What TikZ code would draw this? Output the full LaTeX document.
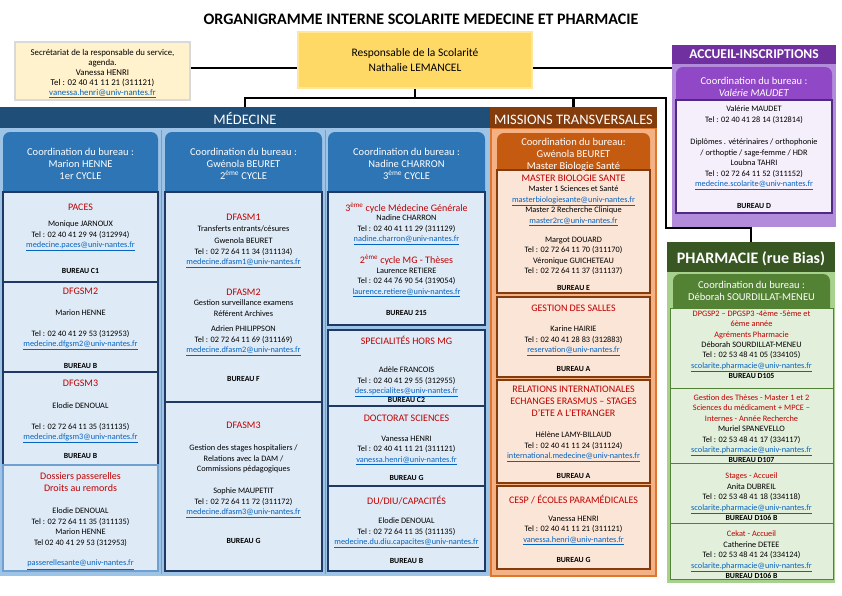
\documentclass[tikz,border=0pt]{standalone}
\usepackage{fontspec}
\setmainfont{Carlito}
\usetikzlibrary{fit}
\definecolor{medhd}{HTML}{1F4E79}
\definecolor{medbg}{HTML}{9DC3E6}
\definecolor{medcol}{HTML}{2E75B6}
\definecolor{medfill}{HTML}{DEEBF7}
\definecolor{medbd}{HTML}{203864}
\definecolor{medsep}{HTML}{6FA0D0}
\definecolor{redt}{HTML}{C00000}
\definecolor{linkc}{HTML}{0563C1}
\definecolor{mishd}{HTML}{843C0C}
\definecolor{misbg}{HTML}{F4B183}
\definecolor{misedge}{HTML}{E0752D}
\definecolor{miscol}{HTML}{C55A11}
\definecolor{misfill}{HTML}{FBE5D6}
\definecolor{misbd}{HTML}{843C0C}
\definecolor{acchd}{HTML}{7030A0}
\definecolor{accbg}{HTML}{B38BDB}
\definecolor{acccol}{HTML}{9148C6}
\definecolor{accfill}{HTML}{F4EFFA}
\definecolor{accbd}{HTML}{4E2A84}
\definecolor{phhd}{HTML}{385723}
\definecolor{phbg}{HTML}{A9D18E}
\definecolor{phcol}{HTML}{548235}
\definecolor{phfill}{HTML}{E2EFDA}
\definecolor{phbd}{HTML}{548235}
\definecolor{secfill}{HTML}{FFF2CC}
\definecolor{secbd}{HTML}{D9D9D9}
\definecolor{respfill}{HTML}{FFD966}
\definecolor{respbd}{HTML}{FFE699}
\newcommand\myct{\fontsize{8.3}{10.4}\selectfont}
\newcommand\myrd{\fontsize{10}{12}\selectfont}
\newcommand\mybu{\fontsize{7.8}{9}\selectfont\bfseries}
\newcommand\myhd{\fontsize{10.5}{12}\selectfont}
\newcommand\lnk[1]{\textcolor{linkc}{\underline{#1}}}
\begin{document}
\begin{tikzpicture}[x=1pt,y=-1pt,
 conn/.style={line width=2.4pt, draw=black, line join=miter},
 txbase/.style={anchor=north, inner sep=0pt, align=center, text=black},
 bodytx/.style={txbase, font=\myct, yshift=2pt},
 rtitle/.style={txbase, font=\myrd, text=redt, yshift=2.5pt},
 burtx/.style={txbase, font=\mybu, yshift=2pt},
 hdtx/.style={txbase, font=\myhd, text=white, yshift=3.3pt},
 bandtx/.style={anchor=base, inner sep=0pt, text=white},
 plain/.style={inner sep=0pt},
 colhd/.style={inner sep=0pt, rounded corners=7pt},
 mbox/.style={inner sep=0pt, fill=medfill, draw=medbd, line width=1.1pt},
 obox/.style={inner sep=0pt, fill=misfill, draw=misbd, line width=1.1pt},
 pbox/.style={inner sep=0pt, fill=accfill, draw=accbd, line width=1.1pt},
 gbox/.style={inner sep=0pt, fill=phfill, draw=phbd, line width=0.9pt}
]
\useasboundingbox (0,0) rectangle (842,595);

% title
\node[anchor=base, inner sep=0pt, font=\fontsize{16}{18}\selectfont\bfseries] (title) at (421,24) {ORGANIGRAMME INTERNE SCOLARITE MEDECINE ET PHARMACIE};

% top boxes
\node[plain, fill=secfill, draw=secbd, line width=1.5pt, fit={(15,42)(190,100)}] (sec) {};
\node[txbase, font=\fontsize{8.8}{9.8}\selectfont, yshift=2.5pt] (sect) at (102.5,52) {Secrétariat de la responsable du service,\\agenda.\\Vanessa HENRI\\Tel : 02 40 41 11 21 (311121)\\\lnk{vanessa.henri@univ-nantes.fr}};
\node[plain, fill=respfill, draw=respbd, line width=2pt, fit={(298,32)(532,88)}] (resp) {};
\node[anchor=base, inner sep=0pt, font=\fontsize{11.5}{14}\selectfont] (respt1) at (415,56.7) {Responsable de la Scolarité};
\node[anchor=base, inner sep=0pt, font=\fontsize{11.5}{14}\selectfont] (respt2) at (415,71.7) {Nathalie LEMANCEL};

% ===== MEDECINE =====
\node[plain, fill=medbg, fit={(0,128)(490,576)}] (medbg) {};
\node[plain, fill=medhd, fit={(0,107)(490,128)}] (medhd) {};
\node[bandtx, font=\fontsize{14.5}{16}\selectfont] (medhdt) at (245,124) {MÉDECINE};
\draw[medsep, line width=1pt] (161.5,130) -- (161.5,574);
\draw[medsep, line width=1pt] (325,130) -- (325,574);
\node[colhd, fill=medcol, fit={(3,132)(158,200)}] (mc1) {};
\node[colhd, fill=medcol, fit={(165,132)(322,200)}] (mc2) {};
\node[colhd, fill=medcol, fit={(328,132)(485,200)}] (mc3) {};
\node[mbox, fit={(3,192)(158,282)}] (m11) {};
\node[mbox, fit={(3,282)(158,372)}] (m12) {};
\node[mbox, fit={(3,372)(158,465)}] (m13) {};
\node[mbox, draw=medsep, fit={(3,465)(158,571)}] (m14) {};
\node[mbox, fit={(165,192)(322,402)}] (m21) {};
\node[mbox, fit={(165,402)(322,571)}] (m22) {};
\node[mbox, fit={(328,192)(485,325)}] (m31) {};
\node[mbox, fit={(328,330)(485,406)}] (m32) {};
\node[mbox, fit={(328,406)(485,486)}] (m33) {};
\node[mbox, fit={(328,486)(485,571)}] (m34) {};

\node[hdtx] (mc1t) at (80.5,151) {Coordination du bureau :\\Marion HENNE\\1er CYCLE};
\node[hdtx] (mc2t) at (243.5,151) {Coordination du bureau :\\Gwénola BEURET\\2\textsuperscript{ème} CYCLE};
\node[hdtx] (mc3t) at (406.5,151) {Coordination du bureau :\\Nadine CHARRON\\3\textsuperscript{ème} CYCLE};

\node[rtitle] (t11) at (80.5,206) {PACES};
\node[bodytx] (b11) at (80.5,223) {Monique JARNOUX\\Tel : 02 40 41 29 94 (312994)\\\lnk{medecine.paces@univ-nantes.fr}};
\node[burtx] (u11) at (80.5,270) {BUREAU C1};
\node[rtitle] (t12) at (80.5,290) {DFGSM2};
\node[bodytx] (b12) at (80.5,312) {Marion HENNE};
\node[bodytx] (c12) at (80.5,332) {Tel : 02 40 41 29 53 (312953)\\\lnk{medecine.dfgsm2@univ-nantes.fr}};
\node[burtx] (u12) at (80.5,365) {BUREAU B};
\node[rtitle] (t13) at (80.5,382) {DFGSM3};
\node[bodytx] (b13) at (80.5,405) {Elodie DENOUAL};
\node[bodytx] (c13) at (80.5,425) {Tel : 02 72 64 11 35 (311135)\\\lnk{medecine.dfgsm3@univ-nantes.fr}};
\node[burtx] (u13) at (80.5,455) {BUREAU B};
\node[rtitle] (t14) at (80.5,475) {Dossiers passerelles\\Droits au remords};
\node[bodytx] (b14) at (80.5,510) {Elodie DENOUAL\\Tel : 02 72 64 11 35 (311135)\\Marion HENNE\\Tel 02 40 41 29 53 (312953)};
\node[bodytx] (c14) at (80.5,562) {\lnk{passerellesante@univ-nantes.fr}};

\node[rtitle] (t21) at (243.5,216) {DFASM1};
\node[bodytx] (b21) at (243.5,228) {Transferts entrants/césures};
\node[bodytx] (c21) at (243.5,240) {Gwenola BEURET\\Tel : 02 72 64 11 34 (311134)\\\lnk{medecine.dfasm1@univ-nantes.fr}};
\node[rtitle] (t22) at (243.5,291) {DFASM2};
\node[bodytx] (b22) at (243.5,302) {Gestion surveillance examens\\Référent Archives};
\node[bodytx] (c22) at (243.5,328) {Adrien PHILIPPSON\\Tel : 02 72 64 11 69 (311169)\\\lnk{medecine.dfasm2@univ-nantes.fr}};
\node[burtx] (u22) at (243.5,378) {BUREAU F};
\node[rtitle] (t23) at (243.5,424) {DFASM3};
\node[bodytx] (b23) at (243.5,447) {Gestion des stages hospitaliers /\\Relations avec la DAM /\\Commissions pédagogiques};
\node[bodytx] (c23) at (243.5,490) {Sophie MAUPETIT\\Tel : 02 72 64 11 72 (311172)\\\lnk{medecine.dfasm3@univ-nantes.fr}};
\node[burtx] (u23) at (243.5,540) {BUREAU G};

\node[rtitle] (t31) at (406.5,205) {3\textsuperscript{ème} cycle Médecine Générale};
\node[bodytx] (b31) at (406.5,217) {Nadine CHARRON\\Tel : 02 40 41 11 29 (311129)\\\lnk{nadine.charron@univ-nantes.fr}};
\node[rtitle] (t32) at (406.5,257) {2\textsuperscript{ème} cycle MG - Thèses};
\node[bodytx] (b32) at (406.5,270) {Laurence RETIERE\\Tel : 02 44 76 90 54 (319054)\\\lnk{laurence.retiere@univ-nantes.fr}};
\node[burtx] (u32) at (406.5,312) {BUREAU 215};
\node[rtitle] (t33) at (406.5,338) {SPECIALITÉS HORS MG};
\node[bodytx] (b33) at (406.5,369) {Adèle FRANCOIS\\Tel : 02 40 41 29 55 (312955)\\\lnk{des.specialites@univ-nantes.fr}};
\node[burtx] (u33) at (406.5,399) {BUREAU C2};
\node[rtitle] (t34) at (406.5,417) {DOCTORAT SCIENCES};
\node[bodytx] (b34) at (406.5,438) {Vanessa HENRI\\Tel : 02 40 41 11 21 (311121)\\\lnk{vanessa.henri@univ-nantes.fr}};
\node[burtx] (u34) at (406.5,477) {BUREAU G};
\node[rtitle] (t35) at (406.5,498) {DU/DIU/CAPACITÉS};
\node[bodytx] (b35) at (406.5,520) {Elodie DENOUAL\\Tel : 02 72 64 11 35 (311135)\\\lnk{medecine.du.diu.capacites@univ-nantes.fr}};
\node[burtx] (u35) at (406.5,560) {BUREAU B};

% ===== MISSIONS =====
\node[plain, fill=misbg, draw=misedge, line width=1.5pt, fit={(490.75,128)(656,576)}] (misbg) {};
\node[plain, fill=mishd, fit={(490,107)(657,128)}] (mishd) {};
\node[bandtx, font=\fontsize{14.5}{16}\selectfont] (mishdt) at (573.5,124) {MISSIONS TRANSVERSALES};
\node[colhd, fill=miscol, fit={(497,133)(650,178)}] (miscol) {};
\node[obox, fit={(497,170)(650,293)}] (o1) {};
\node[obox, fit={(497,297)(650,377)}] (o2) {};
\node[obox, fit={(497,380)(650,483)}] (o3) {};
\node[obox, fit={(497,486)(650,569)}] (o4) {};
\node[hdtx] (mist) at (573.5,141) {Coordination du bureau:\\Gwénola BEURET\\Master Biologie Santé};
\node[rtitle] (t41) at (573.5,177) {MASTER BIOLOGIE SANTE};
\node[bodytx] (b41) at (573.5,188) {Master 1 Sciences et Santé\\\lnk{masterbiologiesante@univ-nantes.fr}\\Master 2 Recherche Clinique\\\lnk{master2rc@univ-nantes.fr}};
\node[bodytx] (c41) at (573.5,239) {Margot DOUARD\\Tel : 02 72 64 11 70 (311170)\\Véronique GUICHETEAU\\Tel : 02 72 64 11 37 (311137)};
\node[burtx] (u41) at (573.5,287) {BUREAU E};
\node[rtitle] (t42) at (573.5,307) {GESTION DES SALLES};
\node[bodytx] (b42) at (573.5,328) {Karine HAIRIE\\Tel : 02 40 41 28 83 (312883)\\\lnk{reservation@univ-nantes.fr}};
\node[burtx] (u42) at (573.5,368) {BUREAU A};
\node[rtitle] (t43) at (573.5,388) {RELATIONS INTERNATIONALES\\ECHANGES ERASMUS – STAGES\\D’ETE A L’ETRANGER};
\node[bodytx] (b43) at (573.5,434) {Hélène LAMY-BILLAUD\\Tel : 02 40 41 11 24 (311124)\\\lnk{international.medecine@univ-nantes.fr}};
\node[burtx] (u43) at (573.5,475) {BUREAU A};
\node[rtitle] (t44) at (573.5,497) {CESP / ÉCOLES PARAMÉDICALES};
\node[bodytx] (b44) at (573.5,518) {Vanessa HENRI\\Tel : 02 40 41 11 21 (311121)\\\lnk{vanessa.henri@univ-nantes.fr}};
\node[burtx] (u44) at (573.5,559) {BUREAU G};

% ===== ACCUEIL =====
\node[plain, fill=accbg, fit={(672,45)(836,227)}] (acc) {};
\node[plain, fill=acchd, fit={(672,45)(836,64)}] (acchd) {};
\node[bandtx, font=\fontsize{13.5}{15}\selectfont\bfseries] (acchdt) at (754,58.5) {ACCUEIL-INSCRIPTIONS};
\node[colhd, fill=acccol, fit={(676,67)(832,108)}] (acccol) {};
\node[pbox, fit={(676,100)(832,213)}] (accb) {};
\node[hdtx] (acct) at (754,80) {Coordination du bureau :\\\textit{Valérie MAUDET}};
\node[bodytx] (acc1) at (754,108) {Valérie MAUDET\\Tel : 02 40 41 28 14 (312814)};
\node[bodytx] (acc2) at (754,141) {Diplômes . vétérinaires / orthophonie\\/ orthoptie / sage-femme / HDR\\Loubna TAHRI\\Tel : 02 72 64 11 52 (311152)\\\lnk{medecine.scolarite@univ-nantes.fr}};
\node[burtx] (acc3) at (754,205) {BUREAU D};

% ===== PHARMACIE =====
\node[plain, fill=phbg, fit={(667,272)(835,583)}] (phbg) {};
\node[plain, fill=phhd, fit={(667,242)(835,272)}] (phhd) {};
\node[bandtx, font=\fontsize{16}{18}\selectfont\bfseries] (phhdt) at (751,263) {PHARMACIE (rue Bias)};
\node[colhd, fill=phcol, fit={(673,274)(830,316)}] (phcol) {};
\node[gbox, fit={(670,308)(833,388)}] (g1) {};
\node[gbox, fit={(670,388)(833,463)}] (g2) {};
\node[gbox, fit={(670,463)(833,523)}] (g3) {};
\node[gbox, fit={(670,523)(833,579)}] (g4) {};
\node[hdtx] (pht) at (751.5,284) {Coordination du bureau :\\Déborah SOURDILLAT-MENEU};
\node[bodytx, yshift=0.5pt] (p1t) at (751.5,313) {\textcolor{redt}{DPGSP2 – DPGSP3 -4ème -5ème et}\\\textcolor{redt}{6ème année}\\\textcolor{redt}{Agréments Pharmacie}\\Déborah SOURDILLAT-MENEU\\Tel : 02 53 48 41 05 (334105)\\\lnk{scolarite.pharmacie@univ-nantes.fr}\\{\mybu BUREAU D105}};
\node[bodytx, yshift=0.5pt] (p2t) at (751.5,397) {\textcolor{redt}{Gestion des Thèses - Master 1 et 2}\\\textcolor{redt}{Sciences du médicament + MPCE –}\\\textcolor{redt}{Internes - Année Recherche}\\Muriel SPANEVELLO\\Tel : 02 53 48 41 17 (334117)\\\lnk{scolarite.pharmacie@univ-nantes.fr}\\{\mybu BUREAU D107}};
\node[bodytx] (p3t) at (751.5,475) {\textcolor{redt}{Stages - Accueil}\\Anita DUBREIL\\Tel : 02 53 48 41 18 (334118)\\\lnk{scolarite.pharmacie@univ-nantes.fr}\\{\mybu BUREAU D106 B}};
\node[bodytx] (p4t) at (751.5,533) {\textcolor{redt}{Cekat - Accueil}\\Catherine DETEE\\Tel : 02 53 48 41 24 (334124)\\\lnk{scolarite.pharmacie@univ-nantes.fr}\\{\mybu BUREAU D106 B}};

% ===== connectors =====
\coordinate (busL) at (245,98);
\coordinate (busR) at (666,98);
\coordinate (pbend) at (666,228);
\draw[conn] ([yshift=3pt]sec.east) -- ([yshift=3pt]sec.east -| resp.west);
\draw[conn] ([yshift=-8pt]resp.east) -- ([yshift=-8pt]resp.east -| acc.west);
\draw[conn] (resp.south) -- (resp.south |- busL);
\draw[conn] (medhd.north) -- (medhd.north |- busL) -- (busR) -- (pbend) -| (phhd.north);
\draw[conn] (mishd.north) -- (mishd.north |- busL);
\end{tikzpicture}
\end{document}
